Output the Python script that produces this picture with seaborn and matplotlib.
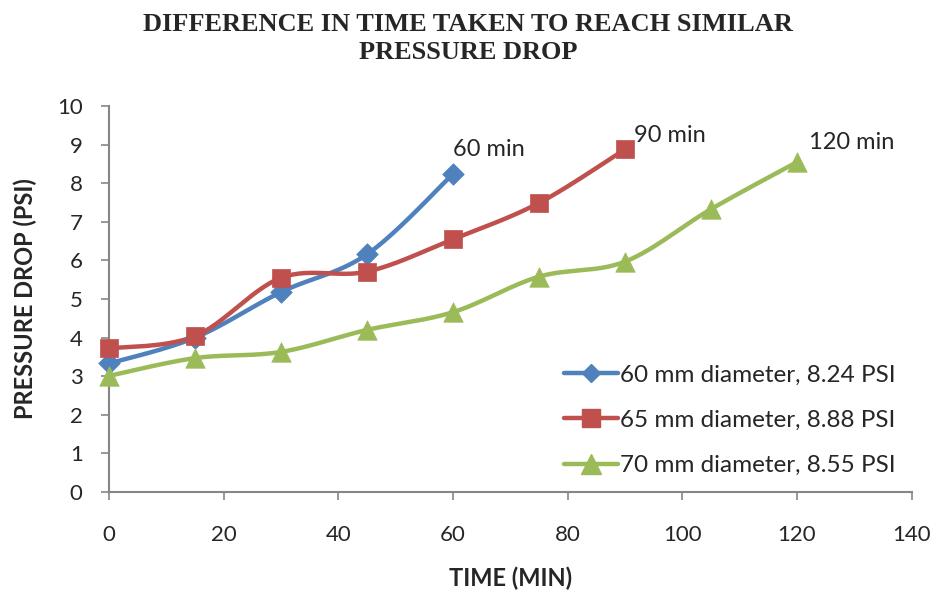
import numpy as np
import matplotlib
matplotlib.use("Agg")
import matplotlib.pyplot as plt
from matplotlib.lines import Line2D
import seaborn as sns
import pandas as pd

# data
time_60 = [0, 15, 30, 45, 60]
psi_60 = [3.33, 4.0, 5.18, 6.16, 8.24]
time_65 = [0, 15, 30, 45, 60, 75, 90]
psi_65 = [3.72, 4.04, 5.55, 5.71, 6.55, 7.49, 8.88]
time_70 = [0, 15, 30, 45, 60, 75, 90, 105, 120]
psi_70 = [3.01, 3.47, 3.63, 4.2, 4.66, 5.58, 5.97, 7.33, 8.55]

labels = ["60 mm diameter, 8.24 PSI", "65 mm diameter, 8.88 PSI", "70 mm diameter, 8.55 PSI"]
end_notes = ["60 min", "90 min", "120 min"]
colors = ["#4F81BD", "#C0504D", "#9BBB59"]
markers = ["D", "s", "^"]
msizes = [11, 13.5, 14]
leg_msizes = [9, 13, 14]


def smooth(x, y, n=30):
    """Excel-like smoothed line (Bezier with Catmull-Rom control points)."""
    p = np.column_stack([x, y]).astype(float)
    pts = np.vstack([p[0], p, p[-1]])
    out = []
    for i in range(1, len(pts) - 2):
        p0, p1, p2, p3 = pts[i - 1], pts[i], pts[i + 1], pts[i + 2]
        c1 = p1 + (p2 - p0) / 6
        c2 = p2 - (p3 - p1) / 6
        t = np.linspace(0, 1, n)[:, None]
        seg = ((1 - t) ** 3) * p1 + 3 * ((1 - t) ** 2) * t * c1 + 3 * (1 - t) * t ** 2 * c2 + t ** 3 * p2
        out.append(seg)
    seg = np.vstack(out)
    return seg[:, 0], seg[:, 1]


sns.set_style("white")
plt.rcParams["font.family"] = ["Lato", "DejaVu Sans"]

fig = plt.figure(figsize=(9.36, 5.91), dpi=100)
ax = fig.add_axes([0.1165, 0.1675, 0.8575, 0.653])

series = [(time_60, psi_60), (time_65, psi_65), (time_70, psi_70)]
handles = []
for (t, p), lab, c, m, ms, lms in zip(series, labels, colors, markers, msizes, leg_msizes):
    sx, sy = smooth(t, p)
    ax.plot(sx, sy, color=c, lw=3.2, solid_capstyle="round", zorder=2, clip_on=False)
    df = pd.DataFrame({"t": t, "p": p})
    sns.scatterplot(data=df, x="t", y="p", marker=m, s=ms ** 2, color=c,
                    edgecolor=c, linewidth=0.5, ax=ax, zorder=3, legend=False,
                    clip_on=False)
    handles.append(Line2D([], [], color=c, lw=3.2, marker=m, markersize=lms, label=lab))

# end-of-run notes
ax.annotate(end_notes[0], (time_60[-1], psi_60[-1]), xytext=(0, 18),
            textcoords="offset points", fontsize=17, ha="left", va="center")
ax.annotate(end_notes[1], (time_65[-1], psi_65[-1]), xytext=(6.5, 10),
            textcoords="offset points", fontsize=17, ha="left", va="center")
ax.annotate(end_notes[2], (time_70[-1], psi_70[-1]), xytext=(8.5, 14),
            textcoords="offset points", fontsize=17, ha="left", va="center")

ax.set_xlim(0, 140)
ax.set_ylim(0, 10)
ax.set_xticks(range(0, 141, 20))
ax.set_yticks(range(0, 11))
ax.tick_params(axis="both", labelsize=16, direction="out", length=6,
               width=1.2, color="#868686", left=True, bottom=True)
ax.tick_params(axis="x", pad=18)
ax.tick_params(axis="y", pad=13)
for s in ["top", "right"]:
    ax.spines[s].set_visible(False)
for s in ["left", "bottom"]:
    ax.spines[s].set_color("#868686")
    ax.spines[s].set_linewidth(1.5)

ax.set_xlabel("TIME (MIN)", fontsize=17, fontweight="bold", labelpad=15)
ax.set_ylabel("PRESSURE DROP (PSI)", fontsize=17, fontweight="bold", labelpad=14)

fig.suptitle("DIFFERENCE IN TIME TAKEN TO REACH SIMILAR\nPRESSURE DROP",
             y=0.978, fontsize=19, fontweight="bold", family="Liberation Serif",
             linespacing=1.3)

ax.legend(handles=handles, loc="lower right", bbox_to_anchor=(1.0, 0.0),
          frameon=False, fontsize=17.5, handlelength=2.2, labelspacing=1.0,
          handletextpad=0.1, borderaxespad=0.25)

fig.savefig("out.png", dpi=100)
